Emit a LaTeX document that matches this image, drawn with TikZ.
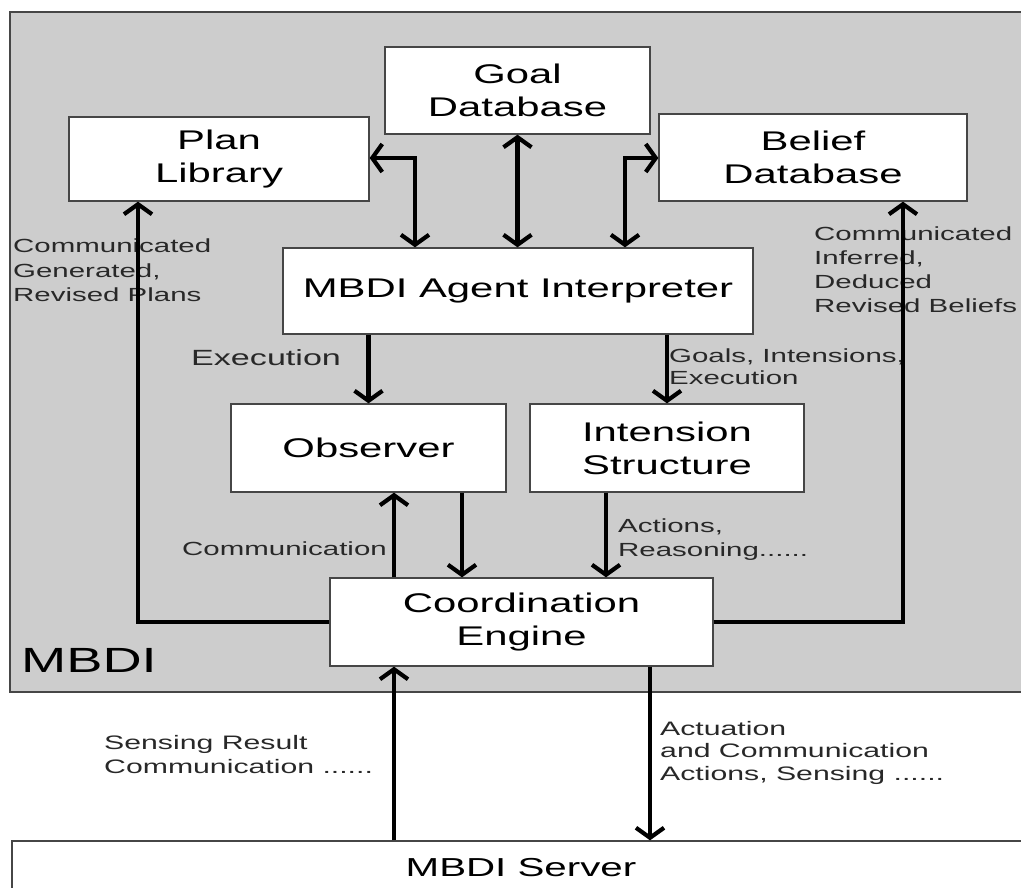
\documentclass[tikz,border=0pt]{standalone}
\usepackage{fontspec}
\setmainfont{Liberation Sans}[FakeStretch=1.55]
\usetikzlibrary{arrows.meta}
\definecolor{panelgray}{RGB}{205,205,205}
\definecolor{edgegray}{RGB}{70,70,70}
\definecolor{labeltext}{RGB}{40,40,40}
\begin{document}
\begin{tikzpicture}[x=1pt,y=-1pt,
  box/.style={draw=edgegray, line width=1.3pt, fill=white, inner sep=0pt,
    align=center, text=black, font=\fontsize{27}{33}\selectfont},
  barb/.tip={Straight Barb[length=10pt,width=28pt]},
  flow/.style={line width=4.2pt, -barb},
  dflow/.style={line width=4.2pt, barb-barb},
  lbl/.style={anchor=north west, inner sep=0pt, align=left, text=labeltext}
]
\useasboundingbox (0,0) rectangle (1021,888);

% MBDI agent panel
\filldraw[fill=panelgray, draw=edgegray, line width=1.4pt] (10,12) rectangle (1040,692);
\node[anchor=base west, inner sep=0pt, font=\fontsize{35}{40}\selectfont] (mbdi) at (21,672) {MBDI};

% components
\node[box, minimum width=300pt, minimum height=84pt] (plan)   at (219,159)   {Plan\\Library};
\node[box, minimum width=265pt, minimum height=87pt] (goal)   at (517.5,90.5) {Goal\\Database};
\node[box, minimum width=308pt, minimum height=87pt] (belief) at (813,157.5) {Belief\\Database};
\node[box, minimum width=470pt, minimum height=86pt] (interp) at (518,291)   {MBDI Agent Interpreter};
\node[box, minimum width=275pt, minimum height=88pt] (obs)    at (368.5,448) {Observer};
\node[box, minimum width=274pt, minimum height=88pt] (isx)    at (667,448)   {Intension\\Structure};
\node[box, minimum width=383pt, minimum height=88pt] (coord)  at (521.5,622) {Coordination\\Engine};
\node[box, minimum width=1018pt, minimum height=54pt, font=\fontsize{26}{30}\selectfont] (server) at (521,868) {MBDI Server};

% connector labels
\node[lbl, font=\fontsize{19}{24.5}\selectfont] (lplans) at (13,239) {Communicated\\Generated,\\Revised Plans};
\node[lbl, font=\fontsize{19}{24}\selectfont] (lbeliefs) at (814,227) {Communicated\\Inferred,\\Deduced\\Revised Beliefs};
\node[lbl, font=\fontsize{22}{26}\selectfont] (lexec) at (191,349) {Execution};
\node[lbl, font=\fontsize{19}{22}\selectfont] (lgoals) at (669,349) {Goals, Intensions,\\Execution};
\node[lbl, font=\fontsize{19}{24}\selectfont] (lcomm) at (182,542) {Communication};
\node[lbl, font=\fontsize{19}{24}\selectfont] (lact) at (618,519) {Actions,\\Reasoning......};
\node[lbl, font=\fontsize{19.5}{24}\selectfont] (lsense) at (104,735) {Sensing Result\\Communication ......};
\node[lbl, font=\fontsize{19.5}{22.5}\selectfont] (lactu) at (660,721) {Actuation\\and Communication\\Actions, Sensing ......};

% routing columns
\coordinate (pk) at (415,158);
\coordinate (bk) at (625,158);
\coordinate (ou) at (394,0);
\coordinate (od) at (462,0);
\coordinate (iu) at (606,0);
\coordinate (sd) at (650,0);
\coordinate (lp) at (138,0);
\coordinate (rp) at (903,0);

% interpreter <-> databases
\draw[dflow] (plan.east |- pk) -- (pk) -- (pk |- interp.north);
\draw[dflow] (goal.south) -- (goal.south |- interp.north);
\draw[dflow] (bk |- interp.north) -- (bk) -- (bk -| belief.west);

% interpreter -> observer / intension structure
\draw[flow] (interp.south -| obs) -- (obs.north);
\draw[flow] (interp.south -| isx) -- (isx.north);

% observer / intension structure <-> coordination engine
\draw[flow] (coord.north -| ou) -- (obs.south -| ou);
\draw[flow] (obs.south -| od) -- (coord.north -| od);
\draw[flow] (isx.south -| iu) -- (coord.north -| iu);

% coordination engine -> plan library / belief database
\draw[flow] (coord.west) -| (plan.south -| lp);
\draw[flow] (coord.east) -| (belief.south -| rp);

% coordination engine <-> server
\draw[flow] (server.north -| ou) -- (coord.south -| ou);
\draw[flow] (coord.south -| sd) -- (server.north -| sd);
\end{tikzpicture}
\end{document}
